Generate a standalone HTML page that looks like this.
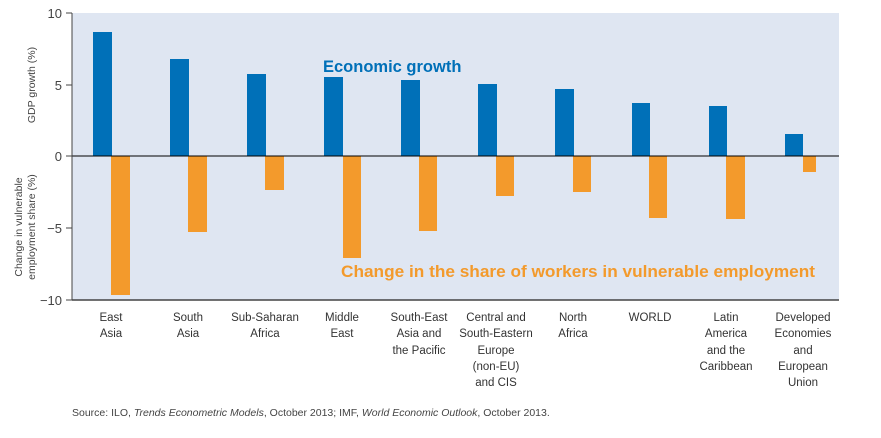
<!DOCTYPE html>
<html><head><meta charset="utf-8"><style>
body{margin:0;background:#fff;width:881px;height:433px;overflow:hidden;font-family:"Liberation Sans",sans-serif}
</style></head><body>
<svg width="881" height="433" xmlns="http://www.w3.org/2000/svg" font-family="Liberation Sans, sans-serif">
<rect x="72" y="13" width="767" height="287" fill="#dfe6f2"/>
<g fill="#0070b8">
<rect x="93" y="32" width="19" height="124"/>
<rect x="170" y="59" width="19" height="97"/>
<rect x="247" y="74" width="19" height="82"/>
<rect x="324" y="77" width="19" height="79"/>
<rect x="401" y="80" width="19" height="76"/>
<rect x="478" y="84" width="19" height="72"/>
<rect x="555" y="89" width="19" height="67"/>
<rect x="632" y="103" width="18" height="53"/>
<rect x="709" y="106" width="18" height="50"/>
<rect x="785" y="134" width="18" height="22"/>
</g>
<g fill="#f39a2c">
<rect x="111" y="156" width="19" height="139"/>
<rect x="188" y="156" width="19" height="76"/>
<rect x="265" y="156" width="19" height="34"/>
<rect x="343" y="156" width="18" height="102"/>
<rect x="419" y="156" width="18" height="75"/>
<rect x="496" y="156" width="18" height="40"/>
<rect x="573" y="156" width="18" height="36"/>
<rect x="649" y="156" width="18" height="62"/>
<rect x="726" y="156" width="19" height="63"/>
<rect x="803" y="156" width="13" height="16"/>
</g>
<line x1="72" y1="156" x2="839" y2="156" stroke="#000" stroke-width="1"/>
<line x1="72" y1="300" x2="839" y2="300" stroke="#444" stroke-width="1.5"/>
<line x1="72" y1="13" x2="72" y2="300" stroke="#444" stroke-width="1"/>
<g stroke="#444"><line x1="66" y1="13" x2="72" y2="13"/><line x1="66" y1="85" x2="72" y2="85"/><line x1="66" y1="156" x2="72" y2="156"/><line x1="66" y1="228" x2="72" y2="228"/><line x1="66" y1="300" x2="72" y2="300"/></g>
<g font-size="13" fill="#444" text-anchor="end">
<text x="62" y="18">10</text><text x="62" y="90">5</text><text x="62" y="161">0</text><text x="62" y="233">−5</text><text x="62" y="305">−10</text>
</g>
<g font-size="10.5" fill="#444" text-anchor="middle">
<text transform="translate(35,85) rotate(-90)">GDP growth (%)</text>
<text transform="translate(22,227) rotate(-90)">Change in vulnerable</text>
<text transform="translate(35,227) rotate(-90)">employment share (%)</text>
</g>
<text x="323" y="72" font-size="16.5" font-weight="bold" fill="#0070b8">Economic growth</text>
<text x="341" y="277" font-size="17" font-weight="bold" fill="#f39a2c" textLength="474" lengthAdjust="spacingAndGlyphs">Change in the share of workers in vulnerable employment</text>
<g font-family="Liberation Sans Narrow, Liberation Sans, sans-serif" font-size="11.5" fill="#333" text-anchor="middle">
<text x="111" y="321">East</text><text x="111" y="337">Asia</text>
<text x="188" y="321">South</text><text x="188" y="337">Asia</text>
<text x="265" y="321">Sub-Saharan</text><text x="265" y="337">Africa</text>
<text x="342" y="321">Middle</text><text x="342" y="337">East</text>
<text x="419" y="321">South-East</text><text x="419" y="337">Asia and</text><text x="419" y="354">the Pacific</text>
<text x="496" y="321">Central and</text><text x="496" y="337">South-Eastern</text><text x="496" y="354">Europe</text><text x="496" y="370">(non-EU)</text><text x="496" y="386">and CIS</text>
<text x="573" y="321">North</text><text x="573" y="337">Africa</text>
<text x="650" y="321">WORLD</text>
<text x="726" y="321">Latin</text><text x="726" y="337">America</text><text x="726" y="354">and the</text><text x="726" y="370">Caribbean</text>
<text x="803" y="321">Developed</text><text x="803" y="337">Economies</text><text x="803" y="354">and</text><text x="803" y="370">European</text><text x="803" y="386">Union</text>
</g>
<text x="72" y="416" font-size="10.5" fill="#444">Source: ILO, <tspan font-style="italic">Trends Econometric Models</tspan>, October 2013; IMF, <tspan font-style="italic">World Economic Outlook</tspan>, October 2013.</text>
</svg>
</body></html>
